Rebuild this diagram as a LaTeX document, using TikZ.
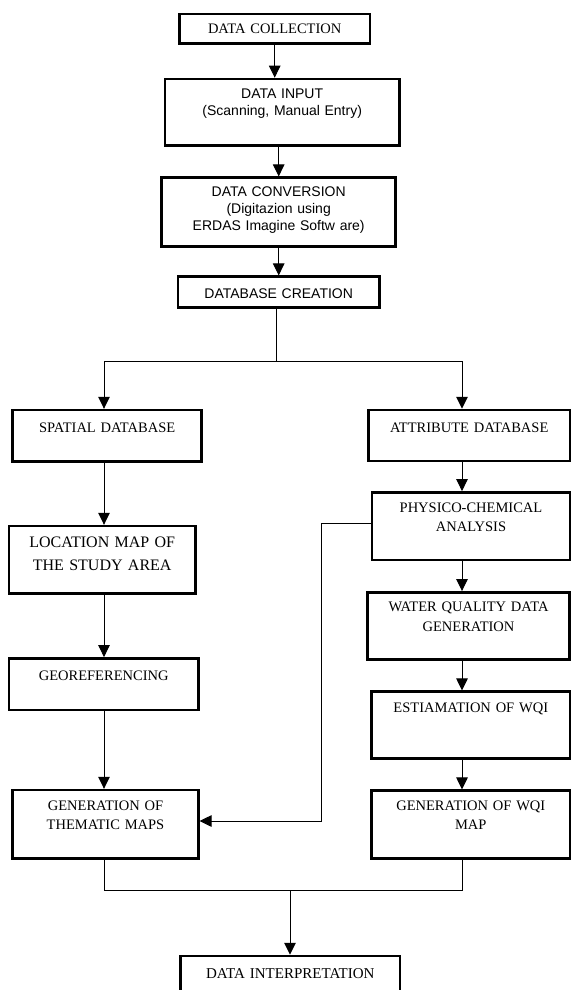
\documentclass[tikz,border=0pt]{standalone}
\usepackage{fontspec}
\setmainfont{Liberation Serif}
\setsansfont{Liberation Sans}
\usetikzlibrary{arrows.meta}

\tikzset{
    box/.style={draw, line width=2.5pt, inner sep=0pt, align=center,
        font=\fontsize{14.5}{19.5}\selectfont},
    sansbox/.style={box, font=\sffamily\fontsize{14}{17}\selectfont},
    arr/.style={line width=1pt, -{Triangle[length=12pt,width=11.5pt]}},
    link/.style={line width=1pt}
}

\begin{document}
\begin{tikzpicture}[x=1pt, y=-1pt]
    \useasboundingbox (0,0) rectangle (571,990);

    % Top chain of steps
    \node[box, text width=190.7pt, text height=19.3pt, text depth=10pt]
        (collect) at (274.7,28.7) {DATA COLLECTION};
    \node[sansbox, text width=234.3pt, text height=19.3pt, text depth=47.4pt]
        (input) at (282.2,112.3) {DATA INPUT\\(Scanning, Manual Entry)};
    \node[sansbox, text width=234pt, text height=19pt, text depth=50pt]
        (conv) at (278.7,212.2) {DATA CONVERSION\\(Digitazion using\\ERDAS Imagine Softw are)};
    \node[sansbox, text width=201.3pt, text height=21.3pt, text depth=9.3pt]
        (dbcreate) at (278.7,292) {DATABASE CREATION};

    % Left column: spatial side
    \node[box, text width=189pt, text height=22.7pt, text depth=28.6pt]
        (spatial) at (107.2,435.7) {SPATIAL DATABASE};
    \node[box, text width=186.3pt, text height=21.3pt, text depth=46pt,
        font=\fontsize{16}{22.7}\selectfont]
        (location) at (102.2,559.7) {LOCATION MAP OF\\THE STUDY AREA};
    \node[box, text width=189.3pt, text height=21.7pt, text depth=30pt]
        (georef) at (103.7,684.2) {GEOREFERENCING};
    \node[box, text width=185.6pt, text height=20pt, text depth=48.3pt]
        (thematic) at (105.5,824.2) {GENERATION OF\\THEMATIC MAPS};

    % Right column: attribute side
    \node[box, text width=201.7pt, text height=22.3pt, text depth=28.7pt]
        (attrib) at (469.2,435.5) {ATTRIBUTE DATABASE};
    \node[box, text width=198pt, text height=20pt, text depth=47.7pt]
        (physico) at (471,526.2) {PHYSICO-CHEMICAL\\ANALYSIS};
    \node[box, text width=201.6pt, text height=19.4pt, text depth=47.6pt]
        (water) at (468.5,625.8) {WATER QUALITY DATA\\GENERATION};
    \node[box, text width=198.3pt, text height=21pt, text depth=45.6pt]
        (estim) at (470.8,725) {ESTIAMATION OF WQI};
    \node[box, text width=198.3pt, text height=19.3pt, text depth=48.3pt]
        (wqimap) at (470.8,824.5) {GENERATION OF WQI\\MAP};

    % Last step
    \node[box, text width=219.3pt, text height=22.3pt, text depth=21.7pt,
        font=\fontsize{15}{19}\selectfont]
        (interp) at (290.3,978) {DATA INTERPRETATION};

    % Helper points for the connectors
    \coordinate (lcol) at (104,0);
    \coordinate (rcol) at (462,0);
    \coordinate (split) at (276,361);
    \coordinate (fb) at (321,821);
    \coordinate (join) at (290,890);

    % Arrows down the top chain
    \draw[arr] (collect.south) -- (collect.south |- input.north);
    \draw[arr] (conv.north |- input.south) -- (conv.north);
    \draw[arr] (conv.south) -- (dbcreate.north);

    % Split into the two databases
    \draw[link] (dbcreate.south -| split) -- (split);
    \draw[arr] (split) -| (spatial.north -| lcol);
    \draw[arr] (split) -| (attrib.north -| rcol);

    % Left column
    \draw[arr] (spatial.south -| lcol) -- (location.north -| lcol);
    \draw[arr] (location.south -| lcol) -- (georef.north -| lcol);
    \draw[arr] (georef.south -| lcol) -- (thematic.north -| lcol);

    % Right column
    \draw[arr] (attrib.south -| rcol) -- (physico.north -| rcol);
    \draw[arr] (physico.south -| rcol) -- (water.north -| rcol);
    \draw[arr] (water.south -| rcol) -- (estim.north -| rcol);
    \draw[arr] (estim.south -| rcol) -- (wqimap.north -| rcol);

    % Analysis feeds the thematic maps
    \draw[arr] ([yshift=3pt]physico.west) -| (fb) -- (fb -| thematic.east);

    % Both results go to interpretation
    \draw[link] (thematic.south -| lcol) |- (join) -| (wqimap.south -| rcol);
    \draw[arr] (join) -- (join |- interp.north);
\end{tikzpicture}
\end{document}
